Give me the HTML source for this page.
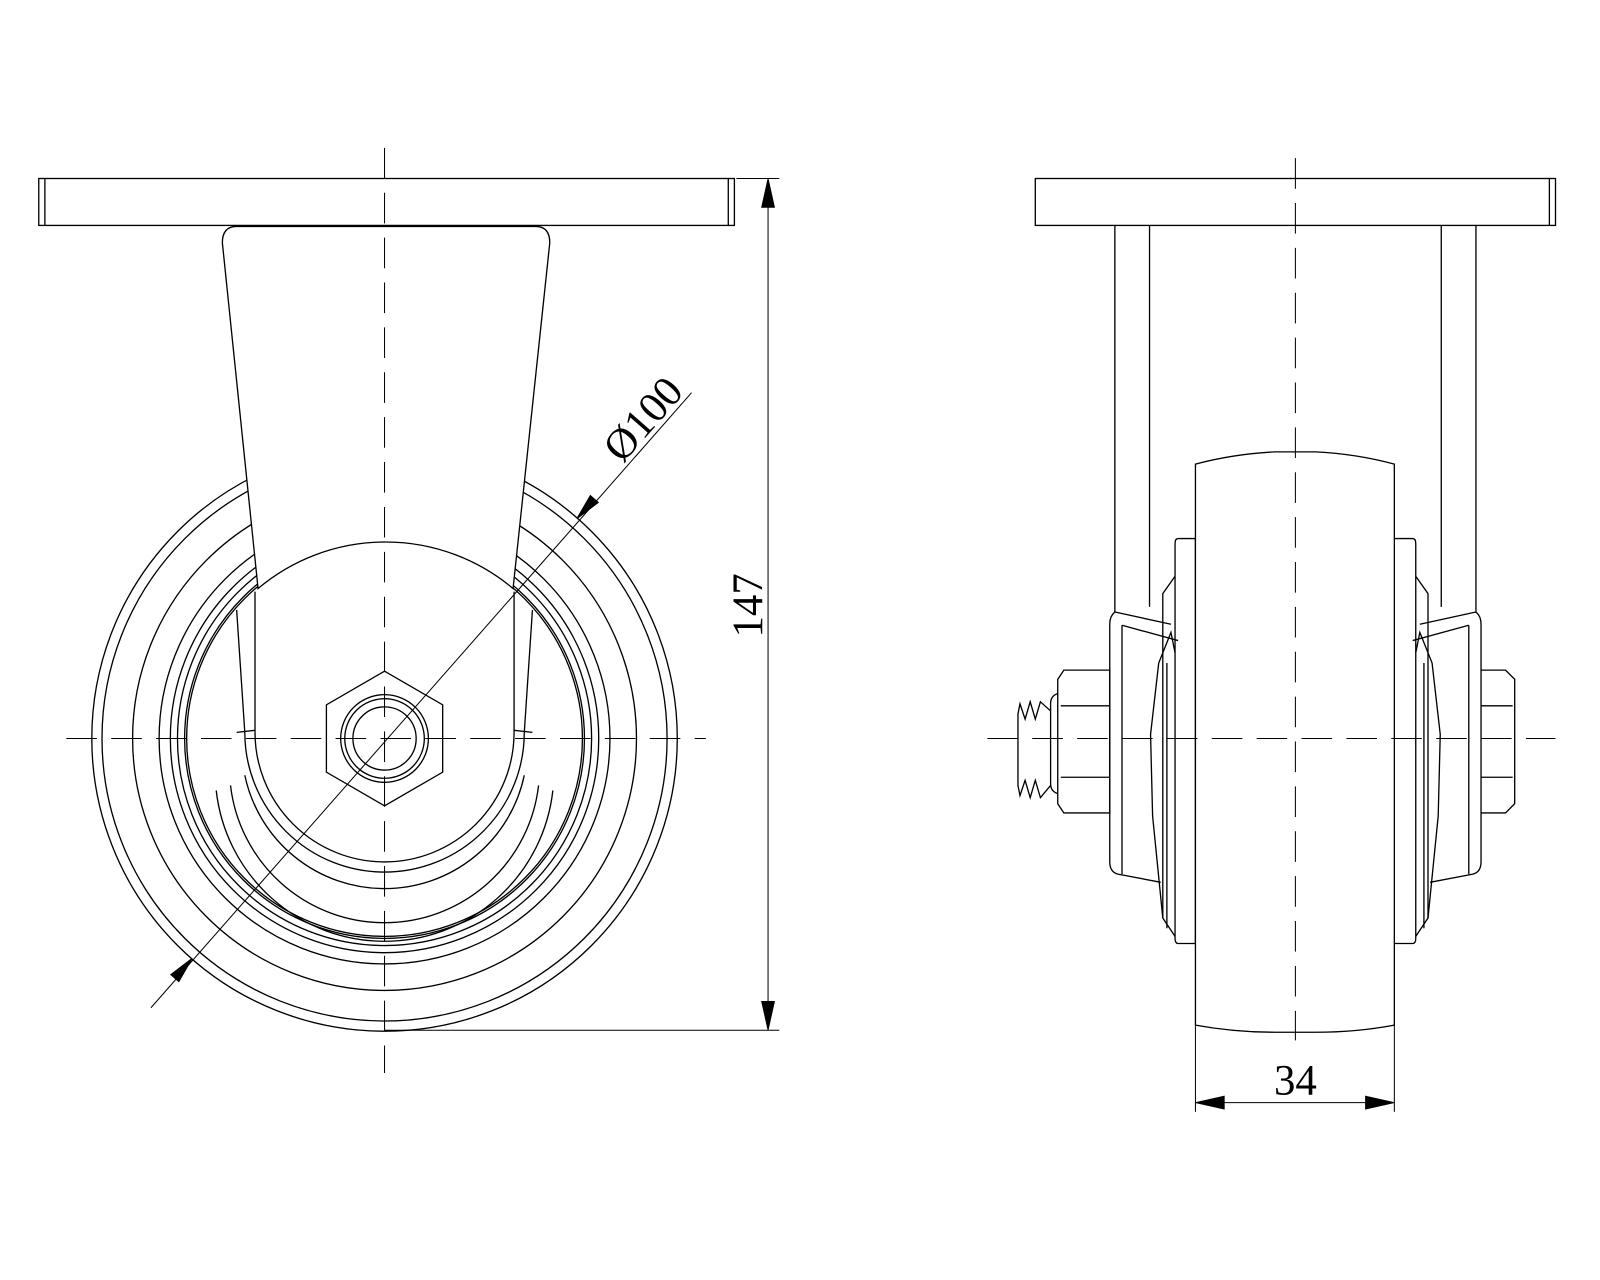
<!DOCTYPE html>
<html><head><meta charset="utf-8"><style>html,body{margin:0;padding:0;background:#fff}svg{display:block}</style></head><body>
<svg width="1600" height="1280" viewBox="0 0 1600 1280" xmlns="http://www.w3.org/2000/svg" fill="none" stroke="#000" stroke-width="1.3">
<g transform="scale(1.02)">
<!-- LEFT VIEW -->
<g>
<circle cx="377" cy="724" r="287"/>
<circle cx="377" cy="724" r="277"/>
<circle cx="377" cy="724" r="247"/>
<circle cx="377" cy="724" r="221"/>
<circle cx="377" cy="724" r="210"/>
<circle cx="377" cy="724" r="203"/>
<circle cx="377" cy="724" r="196"/>
<circle cx="377" cy="724" r="189"/>
<circle cx="377" cy="724" r="181"/>
<circle cx="377" cy="724" r="174"/>
<circle cx="377" cy="724" r="194" fill="#fff"/>
<path d="M232,598 L240,718 A137,137 0 0 0 514,718 L522,598" fill="#fff"/>
<path d="M250,580 L250,718 A127,127 0 0 0 504,718 L504,580"/>
<path d="M232,718 L250,716 M522,718 L504,716"/>
<path d="M240,760 A140,140 0 0 0 514,760"/>
<path d="M226,770 A152,152 0 0 0 528,770"/>
<path d="M212,775 A166,166 0 0 0 542,775"/>
<path d="M232,222 Q218,222 218,238 L253,577 A194,194 0 0 1 503,577 L539,238 Q539,222 525,222 Z" fill="#fff"/>
<rect x="38" y="175" width="682" height="46" fill="#fff"/>
<line x1="44" y1="175" x2="44" y2="221"/><line x1="714" y1="175" x2="714" y2="221"/>
<polygon points="377,658 434,691 434,757 377,790 320,757 320,691" fill="#fff"/>
<circle cx="377" cy="724" r="43"/>
<circle cx="377" cy="724" r="39"/>
<circle cx="377" cy="724" r="31"/>
<line x1="377" y1="145" x2="377" y2="1052" stroke-dasharray="30,14" stroke-width="1"/>
<line x1="65" y1="724" x2="692" y2="724" stroke-dasharray="30,14" stroke-width="1"/>
<line x1="148" y1="988" x2="678" y2="385" stroke-width="1"/>
<polygon points="188,940 175.3,962.1 167.7,955.5" fill="#000"/>
<polygon points="566,508 586.3,492.6 578.8,486" fill="#000"/>
<text x="0" y="0" transform="translate(610,455) rotate(-48.7)" font-family="Liberation Serif, serif" font-size="42" fill="#000" stroke="none">Ø100</text>
<line x1="722" y1="175" x2="764" y2="175" stroke-width="1"/>
<line x1="377" y1="1010" x2="764" y2="1010" stroke-width="1"/>
<line x1="753" y1="175" x2="753" y2="1010" stroke-width="1"/>
<polygon points="753,176 747,203 759,203" fill="#000"/>
<polygon points="753,1009 747,982 759,982" fill="#000"/>
<text x="0" y="0" transform="translate(747,625) rotate(-90)" font-family="Liberation Serif, serif" font-size="42" fill="#000" stroke="none">147</text>
</g>
<!-- RIGHT VIEW -->
<g>
<rect x="1015" y="175" width="510" height="46"/>
<line x1="1519" y1="175" x2="1519" y2="221"/>
<path d="M1093,221 L1093,600 L1148,612 M1127,221 L1127,595"/>
<path d="M1447,221 L1447,600 L1392,612 M1413,221 L1413,595"/>
<path d="M1093,600 Q1088,604 1088,612 L1088,845 Q1088,855 1096,857 L1138,865"/>
<path d="M1100,613 L1100,857 M1100,613 L1155,628"/>
<path d="M1447,600 Q1452,604 1452,612 L1452,845 Q1452,855 1444,857 L1402,865"/>
<path d="M1440,613 L1440,857 M1440,613 L1385,628"/>
<path d="M1155,528 L1172,528 L1172,925 L1155,925 Q1152,925 1152,920 L1152,533 Q1152,528 1155,528"/>
<path d="M1385,528 L1367,528 L1367,925 L1385,925 Q1388,925 1388,920 L1388,533 Q1388,528 1385,528"/>
<path d="M1152,565 L1140,582 L1140,900 L1152,918"/>
<path d="M1388,565 L1400,582 L1400,900 L1388,918"/>
<path d="M1152,640 L1148,620 L1136,650 L1128,720 L1130,800 L1140,900"/>
<path d="M1388,640 L1392,620 L1404,650 L1412,720 L1410,800 L1400,900"/>
<line x1="1144" y1="650" x2="1144" y2="910"/><line x1="1396" y1="650" x2="1396" y2="910"/>
<path d="M1172,1005 L1172,455 Q1210,445 1250,443 L1290,443 Q1330,445 1367,455 L1367,1005 Q1330,1012 1290,1012 L1250,1012 Q1210,1012 1172,1005 Z" fill="#fff"/>
<path d="M1043,657 L1088,657 L1088,797 L1043,797 L1037,788 L1037,666 Z"/>
<line x1="1040" y1="692" x2="1088" y2="692"/><line x1="1040" y1="762" x2="1088" y2="762"/>
<path d="M1037,680 Q1030,682 1030,690 L1030,768 Q1030,776 1037,778"/>
<path d="M1030,697 L1020,688 L1015,705 L1010,688 L1005,705 L1000,690 L998,700 L998,770 L1000,780 L1005,765 L1010,782 L1015,765 L1020,782 L1030,770"/>
<path d="M1452,657 L1476,657 L1485,666 L1485,788 L1476,797 L1452,797"/>
<line x1="1452" y1="692" x2="1483" y2="692"/><line x1="1452" y1="762" x2="1483" y2="762"/>
<line x1="1270" y1="155" x2="1270" y2="1020" stroke-dasharray="30,14" stroke-width="1"/>
<line x1="968" y1="724" x2="1525" y2="724" stroke-dasharray="30,14" stroke-width="1"/>
<line x1="1172" y1="1005" x2="1172" y2="1090" stroke-width="1"/>
<line x1="1367" y1="1005" x2="1367" y2="1090" stroke-width="1"/>
<line x1="1172" y1="1081" x2="1367" y2="1081" stroke-width="1"/>
<polygon points="1173,1081 1200,1075 1200,1087" fill="#000"/>
<polygon points="1366,1081 1339,1075 1339,1087" fill="#000"/>
<text x="1270" y="1073" text-anchor="middle" font-family="Liberation Serif, serif" font-size="42" fill="#000" stroke="none">34</text>
</g>
</g>
</svg>
</body></html>
